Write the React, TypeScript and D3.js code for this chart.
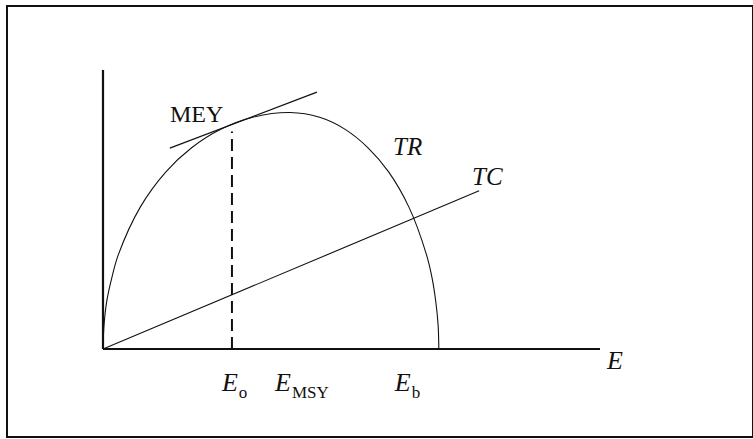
import React from 'react';
import * as d3 from 'd3';

// Total revenue curve (effort, revenue)
const trEffort = [0, 0.3, 1.1, 2.6, 4.6, 11.1, 18.8, 26.3, 35.2, 44.6, 55.7, 64.5, 72.0, 79.0, 85.0, 91.1, 96.3, 98.0, 99.1, 99.8, 100];
const trRevenue = [0, 10, 20, 30, 40, 60, 75, 85, 93, 98, 100, 98, 93, 85, 75, 60, 40, 30, 20, 10, 0];
// Total cost line
const tcEffort = [0, 112];
const tcCost = [0, 66.9];
// Tangent line at MEY
const tanEffort = [19.9, 63.7];
const tanValue = [85.0, 108.6];
// Key effort levels
const effortOpt = 38.4;
const effortMSY = 55.7;
const effortBio = 100;
const meyTop = 92;
const xMax = 148;
const yMax = 118;

export default function App() {
  const W = 753, H = 439;
  const x0 = 103, x1 = 600, y0 = 349, y1 = 70;
  const x = d3.scaleLinear().domain([0, xMax]).range([x0, x1]);
  const y = d3.scaleLinear().domain([0, yMax]).range([y0, y1]);
  const line = d3.line<[number, number]>().x(d => x(d[0])).y(d => y(d[1]));
  const curve = d3.line<[number, number]>().x(d => x(d[0])).y(d => y(d[1])).curve(d3.curveCatmullRom.alpha(0.5));
  const trPts = trEffort.map((e, i) => [e, trRevenue[i]] as [number, number]);
  const tcPts = tcEffort.map((e, i) => [e, tcCost[i]] as [number, number]);
  const tanPts = tanEffort.map((e, i) => [e, tanValue[i]] as [number, number]);
  const font = "'Liberation Serif', 'Times New Roman', serif";
  const subBase = y0 + 49;
  const mainBase = y0 + 42;
  return (
    <svg width={W} height={H} style={{ position: 'absolute', left: 0, top: 0 }} fontFamily={font} fill="#111">
      <rect x={7} y={6} width={746} height={431} fill="white" stroke="#111" strokeWidth={2} />
      {/* axes */}
      <line x1={x(0)} y1={y(yMax)} x2={x(0)} y2={y(0)} stroke="#111" strokeWidth={2.2} />
      <line x1={x(0)} y1={y(0)} x2={x(xMax)} y2={y(0)} stroke="#111" strokeWidth={2.2} />
      {/* TR */}
      <path d={curve(trPts) || ''} fill="none" stroke="#111" strokeWidth={1.1} />
      {/* TC */}
      <path d={line(tcPts) || ''} fill="none" stroke="#111" strokeWidth={1.1} />
      {/* tangent */}
      <path d={line(tanPts) || ''} fill="none" stroke="#111" strokeWidth={1.3} />
      {/* dashed MEY */}
      <line x1={x(effortOpt)} y1={y(0)} x2={x(effortOpt)} y2={y(meyTop)} stroke="#111" strokeWidth={2} strokeDasharray="12,6" />
      {/* labels */}
      <text x={x(effortOpt) - 62} y={y(95.1) - 2} fontSize={24}>MEY</text>
      <text x={393} y={155} fontSize={25} fontStyle="italic">TR</text>
      <text x={472} y={185} fontSize={25} fontStyle="italic">TC</text>
      <text x={x(xMax) + 7} y={y0 + 20} fontSize={26} fontStyle="italic">E</text>
      <text x={x(effortOpt) - 10} y={mainBase} fontSize={26}>
        <tspan fontStyle="italic">E</tspan>
        <tspan fontSize={17} y={subBase} dx={1}>o</tspan>
      </text>
      <text x={x(effortMSY) - 15} y={mainBase} fontSize={26}>
        <tspan fontStyle="italic">E</tspan>
        <tspan fontSize={17} y={subBase} dx={1}>MSY</tspan>
      </text>
      <text x={x(effortBio) - 44} y={mainBase} fontSize={26}>
        <tspan fontStyle="italic">E</tspan>
        <tspan fontSize={17} y={subBase} dx={1}>b</tspan>
      </text>
    </svg>
  );
}
